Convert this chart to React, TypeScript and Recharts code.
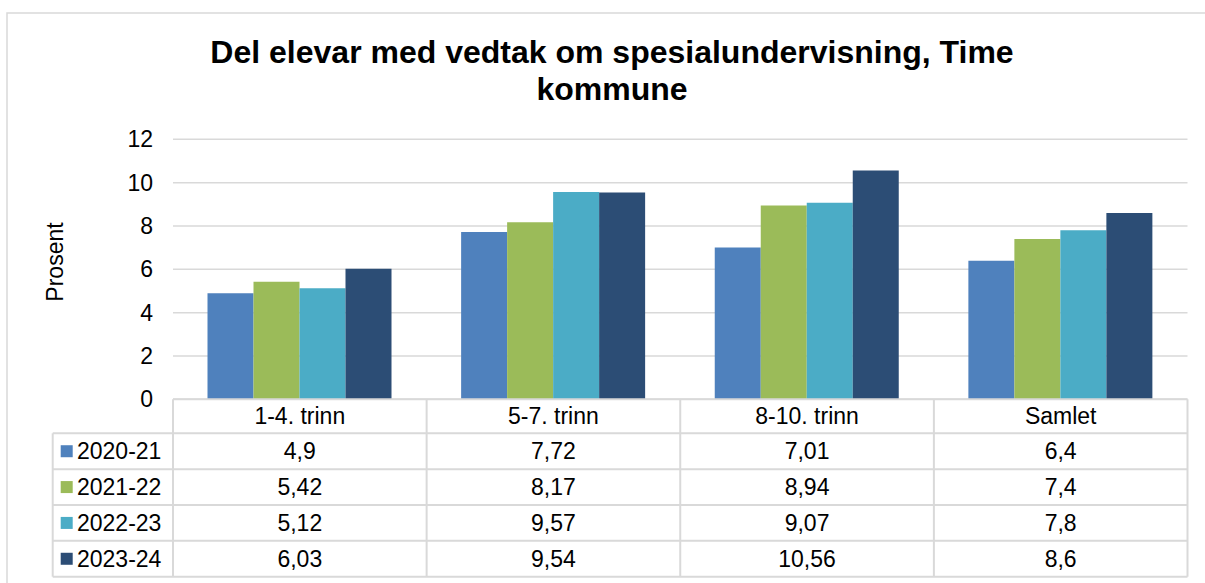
import React from "react";
import { BarChart, Bar, XAxis, YAxis, CartesianGrid } from "recharts";

const categories = ["1-4. trinn", "5-7. trinn", "8-10. trinn", "Samlet"];
const seriesNames = ["2020-21", "2021-22", "2022-23", "2023-24"];
const values2020 = [4.9, 7.72, 7.01, 6.4];
const values2021 = [5.42, 8.17, 8.94, 7.4];
const values2022 = [5.12, 9.57, 9.07, 7.8];
const values2023 = [6.03, 9.54, 10.56, 8.6];
const yTicks = [0, 2, 4, 6, 8, 10, 12];

const colors = ["#4F81BD", "#9BBB59", "#4BACC6", "#2C4D75"];
const allValues = [values2020, values2021, values2022, values2023];

const data = categories.map((name, i) => ({
  name,
  s0: values2020[i],
  s1: values2021[i],
  s2: values2022[i],
  s3: values2023[i],
}));

// layout (px, page coordinates)
const W = 1205;
const H = 583;
const plotLeft = 173;
const plotRight = 1187.5;
const plotTop = 139.3;
const plotBottom = 399.3;
const yAxisWidth = 60;
const tableLeft = 52.7;
const headerBottom = 433.3;
const tableBottom = 576.7;
const font = '"Liberation Sans", Arial, sans-serif';
const fs = 23;
const lineColor = "#d9d9d9";

const fmt = (v: number) => String(v).replace(".", ",");

function TableOverlay() {
  const colW = (plotRight - plotLeft) / categories.length;
  const rowH = (tableBottom - headerBottom) / seriesNames.length;
  const rowYs = seriesNames.map((_, i) => headerBottom + i * rowH);

  return (
    <svg
      width={W}
      height={H}
      style={{ position: "absolute", left: 0, top: 0, pointerEvents: "none" }}
      fontFamily={font}
    >
      {/* outer chart border */}
      <path d={`M7,${H} L7,13 L${W},13`} fill="none" stroke={lineColor} strokeWidth={1.5} />

      <text x={612} y={63} textAnchor="middle" fontSize={32} fontWeight="bold" fill="#000">
        Del elevar med vedtak om spesialundervisning, Time
      </text>
      <text x={612} y={100} textAnchor="middle" fontSize={32} fontWeight="bold" fill="#000">
        kommune
      </text>

      <text
        x={55}
        y={262}
        transform="rotate(-90 55 262)"
        textAnchor="middle"
        dominantBaseline="central"
        fontSize={fs}
        fill="#000"
      >
        Prosent
      </text>

      {/* table grid */}
      <line x1={plotLeft} x2={plotRight} y1={plotBottom} y2={plotBottom} stroke={lineColor} strokeWidth={2} />
      {[...rowYs, tableBottom].map((y, i) => (
        <line key={"h" + i} x1={tableLeft} x2={plotRight} y1={y} y2={y} stroke={lineColor} strokeWidth={2} />
      ))}
      <line x1={tableLeft} x2={tableLeft} y1={headerBottom} y2={tableBottom} stroke={lineColor} strokeWidth={2} />
      {categories.concat([""]).map((_, i) => (
        <line
          key={"v" + i}
          x1={plotLeft + i * colW}
          x2={plotLeft + i * colW}
          y1={plotBottom}
          y2={tableBottom}
          stroke={lineColor}
          strokeWidth={2}
        />
      ))}

      {categories.map((c, i) => (
        <text
          key={"c" + i}
          x={plotLeft + (i + 0.5) * colW}
          y={(plotBottom + headerBottom) / 2}
          textAnchor="middle"
          dominantBaseline="central"
          fontSize={fs}
          fill="#000"
        >
          {c}
        </text>
      ))}

      {seriesNames.map((s, r) => (
        <g key={"r" + r}>
          <rect x={60.7} y={rowYs[r] + rowH / 2 - 6} width={12} height={12} fill={colors[r]} />
          <text x={77} y={rowYs[r] + rowH / 2} dominantBaseline="central" fontSize={fs} fill="#000">
            {s}
          </text>
          {allValues[r].map((v, i) => (
            <text
              key={i}
              x={plotLeft + (i + 0.5) * colW}
              y={rowYs[r] + rowH / 2}
              textAnchor="middle"
              dominantBaseline="central"
              fontSize={fs}
              fill="#000"
            >
              {fmt(v)}
            </text>
          ))}
        </g>
      ))}
    </svg>
  );
}

export default function App() {
  return (
    <div style={{ position: "absolute", left: 0, top: 0, width: W, height: H, background: "#fff" }}>
      <BarChart
        width={W}
        height={H}
        data={data}
        margin={{
          top: plotTop,
          left: plotLeft - yAxisWidth,
          right: W - plotRight,
          bottom: H - plotBottom,
        }}
        barCategoryGap={34.5}
        barGap={0}
      >
        <CartesianGrid vertical={false} stroke={lineColor} strokeWidth={1.5} />
        <XAxis dataKey="name" hide />
        <YAxis
          width={yAxisWidth}
          domain={[0, 12]}
          ticks={yTicks}
          axisLine={false}
          tickLine={false}
          tickSize={0}
          tickMargin={20}
          tick={{ fontSize: fs, fill: "#000", fontFamily: font }}
        />
        {colors.map((c, i) => (
          <Bar key={i} dataKey={"s" + i} name={seriesNames[i]} fill={c} isAnimationActive={false} />
        ))}
      </BarChart>
      <TableOverlay />
    </div>
  );
}
